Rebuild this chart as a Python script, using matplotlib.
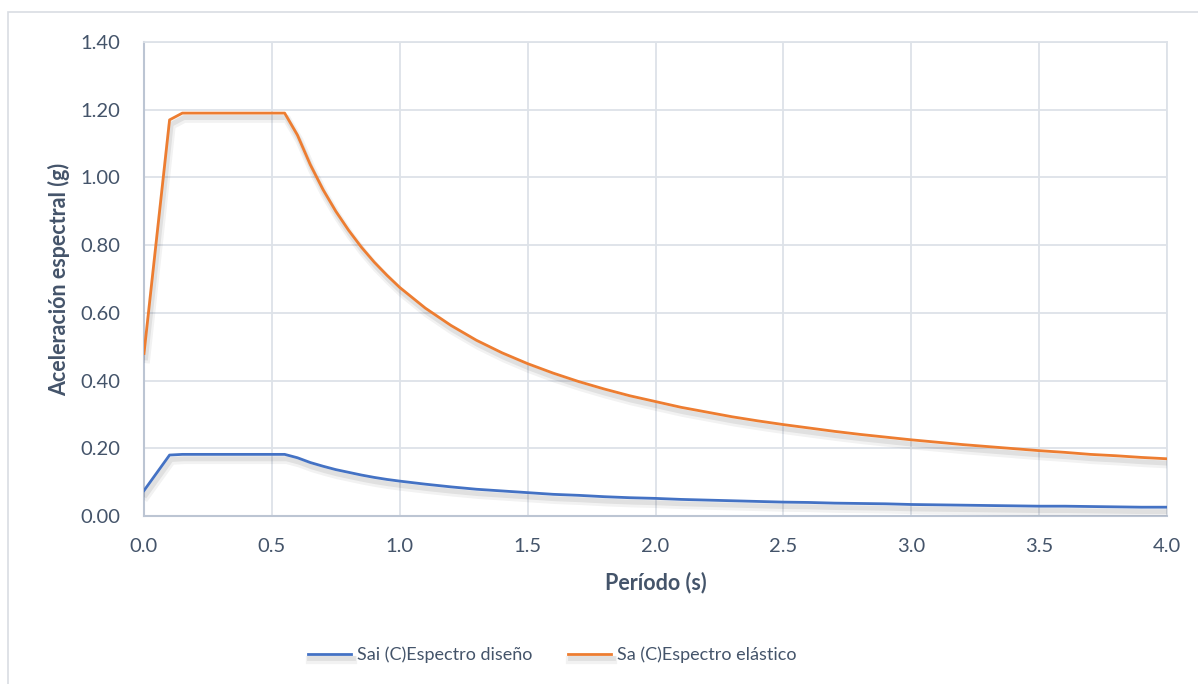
import matplotlib
matplotlib.use("Agg")
import matplotlib.pyplot as plt
import matplotlib.patheffects as pe
from matplotlib.patches import Rectangle

# ---- data ----
periodo = [0.0, 0.10, 0.15, 0.20, 0.25, 0.30, 0.35, 0.40, 0.45, 0.50, 0.55,
           0.60, 0.65, 0.70, 0.75, 0.80, 0.85, 0.90, 0.95, 1.00,
           1.1, 1.2, 1.3, 1.4, 1.5, 1.6, 1.7, 1.8, 1.9, 2.0,
           2.1, 2.2, 2.3, 2.4, 2.5, 2.6, 2.7, 2.8, 2.9, 3.0,
           3.1, 3.2, 3.3, 3.4, 3.5, 3.6, 3.7, 3.8, 3.9, 4.0]

sa_elastico = [0.48, 1.17, 1.19, 1.19, 1.19, 1.19, 1.19, 1.19, 1.19, 1.19, 1.19,
               1.125, 1.038, 0.964, 0.900, 0.844, 0.794, 0.750, 0.711, 0.675,
               0.614, 0.563, 0.519, 0.482, 0.450, 0.422, 0.397, 0.375, 0.355, 0.338,
               0.321, 0.307, 0.293, 0.281, 0.270, 0.260, 0.250, 0.241, 0.233, 0.225,
               0.218, 0.211, 0.205, 0.199, 0.193, 0.188, 0.182, 0.178, 0.173, 0.169]

sai_diseno = [0.075, 0.180, 0.182, 0.182, 0.182, 0.182, 0.182, 0.182, 0.182, 0.182, 0.182,
              0.172, 0.158, 0.147, 0.137, 0.129, 0.121, 0.114, 0.108, 0.103,
              0.094, 0.086, 0.079, 0.074, 0.069, 0.064, 0.061, 0.057, 0.054, 0.052,
              0.049, 0.047, 0.045, 0.043, 0.041, 0.040, 0.038, 0.037, 0.036, 0.034,
              0.033, 0.032, 0.031, 0.030, 0.029, 0.029, 0.028, 0.027, 0.026, 0.026]

x_ticks = [0.0, 0.5, 1.0, 1.5, 2.0, 2.5, 3.0, 3.5, 4.0]
y_ticks = [0.0, 0.2, 0.4, 0.6, 0.8, 1.0, 1.2, 1.4]

label_sai = "Sai (C)Espectro diseño"
label_sa = "Sa (C)Espectro elástico"
xlabel = "Período (s)"
ylabel = "Aceleración espectral (g)"

# ---- style ----
plt.rcParams['font.family'] = ['Lato', 'DejaVu Sans']
TXT = '#44546A'
GRID = '#DDE2E8'
SPINE = '#BCC5D3'
BLUE = '#4472C4'
ORANGE = '#ED7D31'

W, H = 1198, 684
fig = plt.figure(figsize=(W / 100, H / 100), dpi=100)
fig.patch.set_facecolor('white')

# outer chart border
fig.patches.append(Rectangle((8 / W, -0.05), 1.2, (H - 12) / H + 0.05,
                             transform=fig.transFigure, fill=False,
                             edgecolor='#D9DDE3', linewidth=1.2))

L, R, T, B = 144, 1167, 42, 516
ax = fig.add_axes([L / W, (H - B) / H, (R - L) / W, (B - T) / H])

shadow = [pe.SimpleLineShadow(offset=(1.5, -4.0), shadow_color='#000000', alpha=0.05, linewidth=6),
          pe.SimpleLineShadow(offset=(1.2, -3.2), shadow_color='#000000', alpha=0.07, linewidth=3.5),
          pe.Normal()]

ax.plot(periodo, sai_diseno, color=BLUE, lw=2.0, label=label_sai,
        path_effects=shadow, solid_joinstyle='round', zorder=3)
ax.plot(periodo, sa_elastico, color=ORANGE, lw=2.0, label=label_sa,
        path_effects=shadow, solid_joinstyle='round', zorder=3)

ax.set_xlim(0, 4.0)
ax.set_ylim(0, 1.4)
ax.set_xticks(x_ticks)
ax.set_yticks(y_ticks)
ax.set_xticklabels([f"{v:.1f}" for v in x_ticks])
ax.set_yticklabels([f"{v:.2f}" for v in y_ticks])
ax.tick_params(axis='both', length=0, labelsize=14.5, colors=TXT)
ax.tick_params(axis='x', pad=16)
ax.tick_params(axis='y', pad=17)
ax.grid(True, color=GRID, linewidth=1.3, zorder=0)
ax.set_axisbelow(True)
for s in ['top', 'right']:
    ax.spines[s].set_color(GRID)
    ax.spines[s].set_linewidth(1.3)
for s in ['left', 'bottom']:
    ax.spines[s].set_color(SPINE)
    ax.spines[s].set_linewidth(1.5)

ax.set_xlabel(xlabel, fontsize=15.5, fontweight='bold', color=TXT, labelpad=12)
ax.set_ylabel(ylabel, fontsize=15.5, fontweight='bold', color=TXT)
ax.yaxis.set_label_coords(-(L - 70) / (R - L), 0.5)

h, l = ax.get_legend_handles_labels()
leg = fig.legend(h, l, loc='center', bbox_to_anchor=(552 / W, (H - 655) / H),
                 ncol=2, frameon=False, fontsize=13, handlelength=2.4,
                 handletextpad=0.3, columnspacing=2.0)
for t in leg.get_texts():
    t.set_color(TXT)

fig.savefig('out.png', dpi=100, facecolor='white')
